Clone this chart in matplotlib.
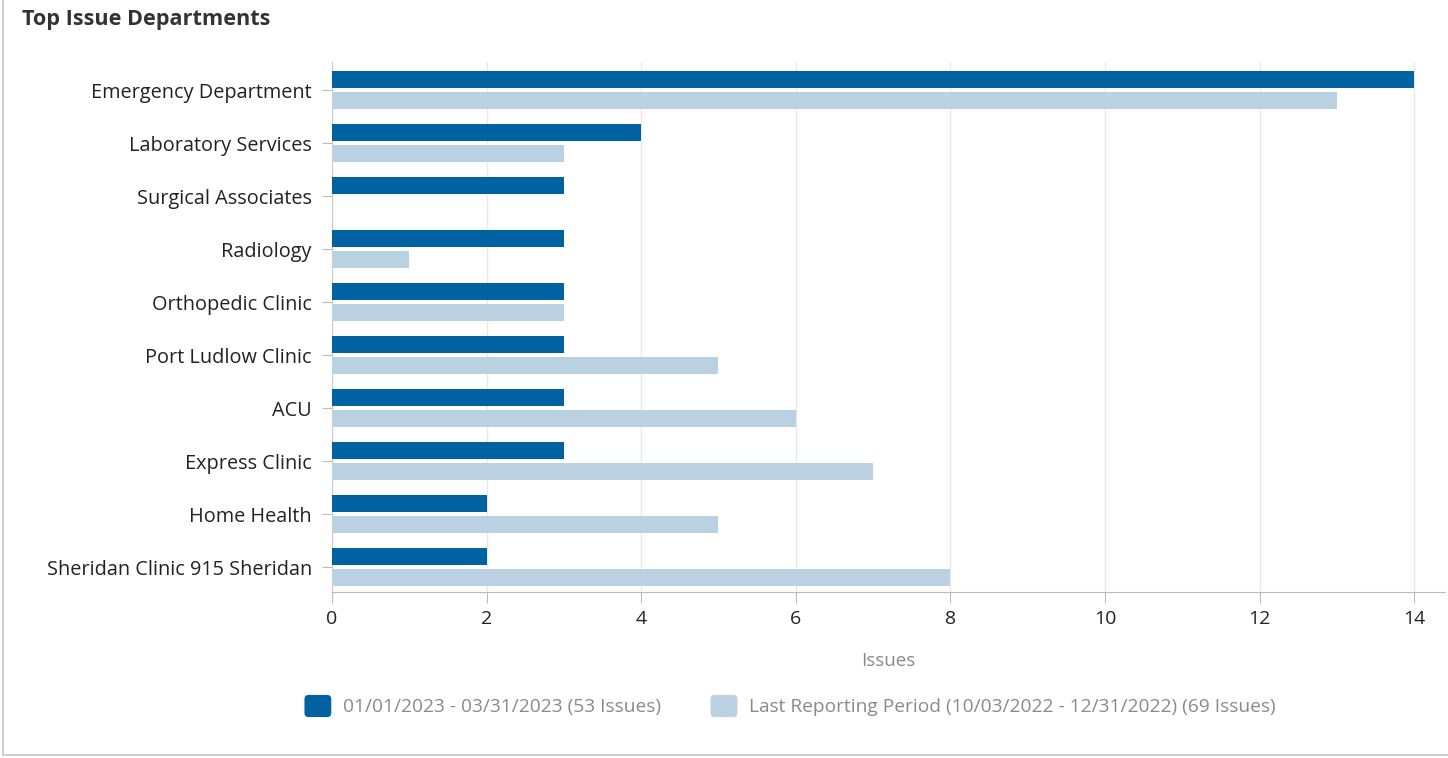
import matplotlib.pyplot as plt
from matplotlib.lines import Line2D
from matplotlib.patches import FancyBboxPatch
from matplotlib.legend_handler import HandlerPatch
import numpy as np

departments = ["Emergency Department", "Laboratory Services", "Surgical Associates",
               "Radiology", "Orthopedic Clinic", "Port Ludlow Clinic", "ACU",
               "Express Clinic", "Home Health", "Sheridan Clinic 915 Sheridan"]
current = [14, 4, 3, 3, 3, 3, 3, 3, 2, 2]
previous = [13, 3, 0, 1, 3, 5, 6, 7, 5, 8]
x_ticks = [0, 2, 4, 6, 8, 10, 12, 14]
series_labels = ["01/01/2023 - 03/31/2023 (53 Issues)",
                 "Last Reporting Period (10/03/2022 - 12/31/2022) (69 Issues)"]

dark = "#0062A0"
light = "#B9D1E0"
plt.rcParams['font.family'] = ['Open Sans', 'DejaVu Sans']

fig = plt.figure(figsize=(14.48, 7.58), dpi=100)
ax = fig.add_axes([332/1448, 1-592/758, (1445-332)/1448, (592-62)/758])

y = np.arange(len(departments))
h = 0.32
ax.barh(y - 0.2, current, height=h, color=dark, zorder=3)
ax.barh(y + 0.2, previous, height=h, color=light, zorder=3)

ax.set_xlim(0, 14.4)
ax.set_ylim(9.47, -0.53)
ax.set_yticks(y)
ax.set_yticklabels(departments, fontsize=14.3, color="#222222")
ax.set_xticks(x_ticks)
ax.set_xticklabels([str(t) for t in x_ticks], fontsize=14, color="#222222")
ax.tick_params(axis='y', length=7.5, color="#BBBBBB", pad=7)
ax.tick_params(axis='x', length=8, color="#BBBBBB", pad=5)
ax.grid(axis='x', color="#E8E8E8", linewidth=1, zorder=0)
for s in ["top", "right"]:
    ax.spines[s].set_visible(False)
ax.spines["left"].set_color("#CCCCCC")
ax.spines["bottom"].set_color("#BBBBBB")
ax.set_xlabel("Issues", fontsize=13.5, color="#8A8A8A", labelpad=17)

fig.text(22/1448, 1-19/758, "Top Issue Departments", fontsize=15.6, fontweight='bold',
         color="#333333", va='center', ha='left')


class RoundHandler(HandlerPatch):
    def create_artists(self, legend, orig_handle, xdescent, ydescent, width, height,
                       fontsize, trans):
        p = FancyBboxPatch((-xdescent, -ydescent), width, height,
                           boxstyle="round,pad=0,rounding_size=3",
                           facecolor=orig_handle.get_facecolor(), edgecolor='none',
                           transform=trans)
        return [p]


handles = [plt.Rectangle((0, 0), 1, 1, facecolor=dark), plt.Rectangle((0, 0), 1, 1, facecolor=light)]
leg = fig.legend(handles, series_labels, loc='center', bbox_to_anchor=(790/1448, 1-706/758),
                 ncol=2, frameon=False, fontsize=13.8, handlelength=1.4, handleheight=1.4,
                 columnspacing=2.6, handletextpad=0.6,
                 handler_map={plt.Rectangle: RoundHandler()})
for t in leg.get_texts():
    t.set_color("#8A8A8A")

fig.add_artist(Line2D([3/1448, 3/1448], [1-755/758, 1.0], transform=fig.transFigure,
                      color="#D0D0D0", linewidth=1.5))
fig.add_artist(Line2D([3/1448, 1.0], [1-755/758, 1-755/758], transform=fig.transFigure,
                      color="#D0D0D0", linewidth=1.5))

fig.savefig("out.png", dpi=100)
